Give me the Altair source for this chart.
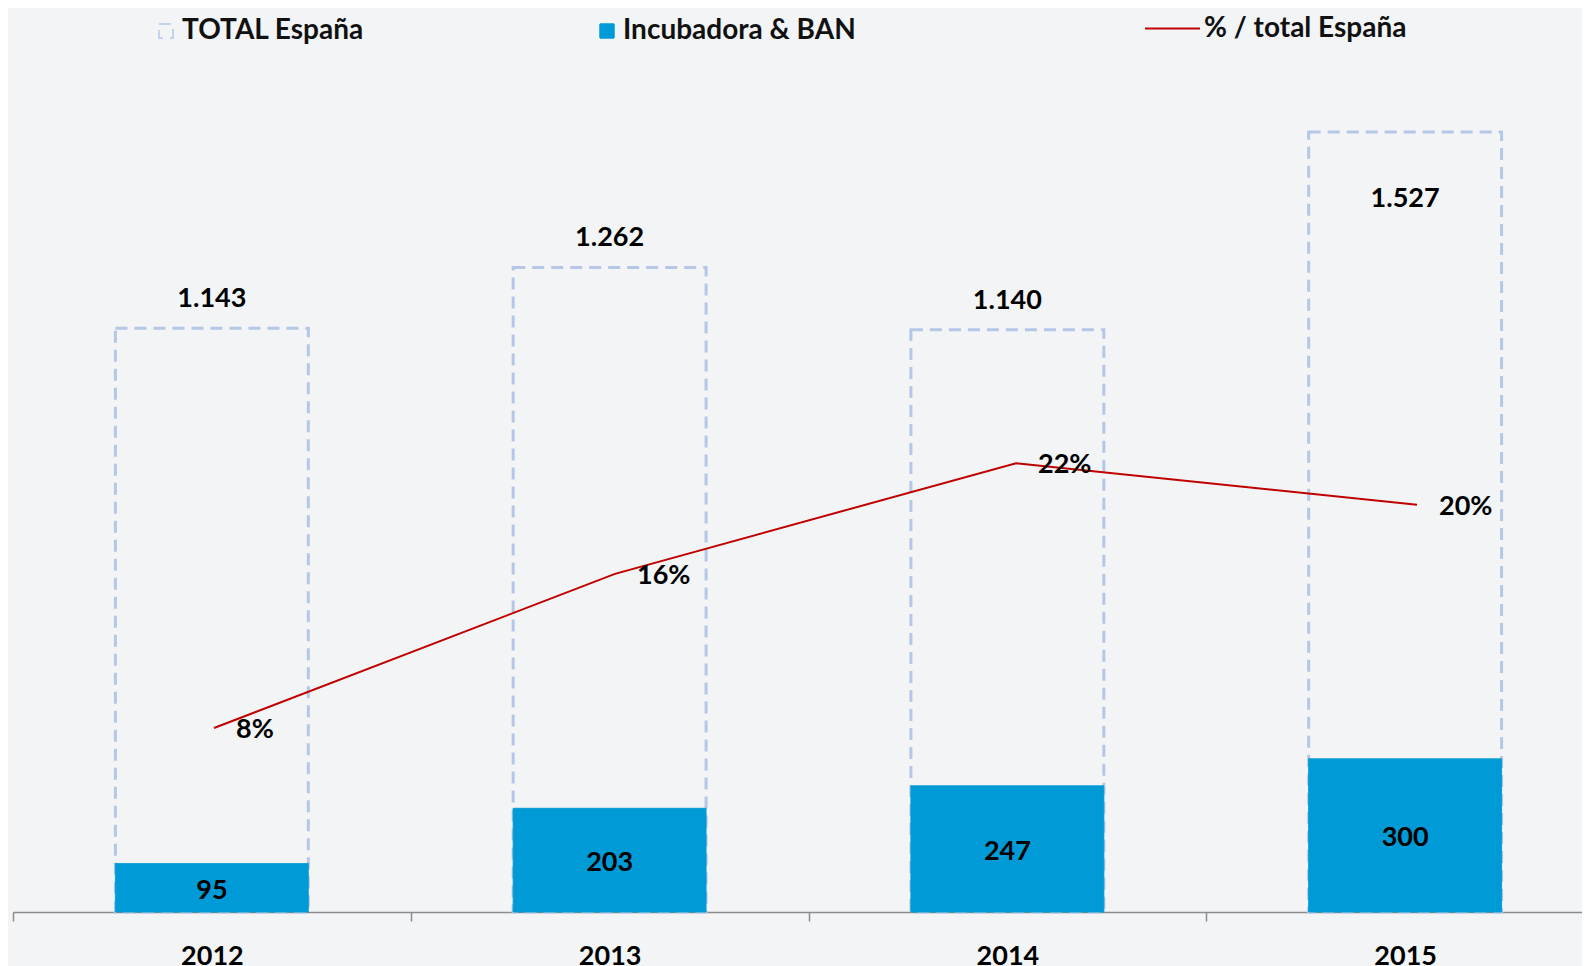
import altair as alt
import pandas as pd

years = ["2012", "2013", "2014", "2015"]
total = [1143, 1262, 1140, 1527]
incub = [95, 203, 247, 300]
pct = [0.083, 0.161, 0.217, 0.196]
pct_labels = ["8%", "16%", "22%", "20%"]
total_labels = ["1.143", "1.262", "1.140", "1.527"]

S_TOTAL = "TOTAL España"
S_INC = "Incubadora & BAN"
S_LINE = "% / total España"

df = pd.DataFrame({
    "year": years, "total": total, "incub": incub, "pct": pct,
    "pct_label": pct_labels, "total_label": total_labels,
})

FONT = "Lato"
BG = "#f2f4f6"
BLUE = "#009bd6"
DASH_BLUE = "#b4c7e7"
RED = "#c00000"

bar_scale = alt.Scale(domain=years, range=[0, 1591], paddingInner=0, paddingOuter=0)
x_axis = alt.X("year:N", sort=years, scale=bar_scale,
               axis=alt.Axis(title=None, labelAngle=0, tickBand="extent",
                             domainColor="#8c8c8c", domainWidth=1.5,
                             tickColor="#8c8c8c", tickWidth=1.5, tickSize=9,
                             labelFont=FONT, labelFontSize=27, labelFontWeight="bold",
                             labelColor="#000000", labelPadding=22, labelBaseline="top",
                             grid=False))
x = alt.X("year:N", sort=years, scale=bar_scale, axis=None)
x_line = alt.X("year:N", sort=years,
               scale=alt.Scale(domain=years, range=[0.5, 1604.5], paddingInner=0, paddingOuter=0),
               axis=None)

ydom = alt.Scale(domain=[0, 1668], nice=False, zero=True)
pdom = alt.Scale(domain=[-0.0101, 0.421], nice=False, zero=False)

bar_legend = alt.Legend(orient="none", legendX=139, legendY=-43, direction="horizontal",
                        title=None, labelFont=FONT, labelFontSize=28, labelFontWeight="bold",
                        labelColor="#111111", labelLimit=500, symbolSize=196, symbolType="square",
                        symbolStrokeWidth=1.5, columnPadding=228, labelOffset=2, padding=0)
series_dom = [S_TOTAL, S_INC]
fill_enc = alt.Fill("series:N", scale=alt.Scale(domain=series_dom, range=["transparent", BLUE]), legend=bar_legend)
stroke_enc = alt.Stroke("series:N", scale=alt.Scale(domain=series_dom, range=[DASH_BLUE, BLUE]), legend=bar_legend)
dash_enc = alt.StrokeDash("series:N", scale=alt.Scale(domain=series_dom, range=[[12, 7], [1, 0]]), legend=bar_legend)

base = alt.Chart(df)

total_bar = base.transform_calculate(series=f"'{S_TOTAL}'").mark_bar(
    width=alt.RelativeBandSize(0.485), strokeWidth=3
).encode(x=x_axis, y=alt.Y("total:Q", scale=ydom, axis=None),
         fill=fill_enc, stroke=stroke_enc, strokeDash=dash_enc)

incub_bar = base.transform_calculate(series=f"'{S_INC}'").mark_bar(
    width=alt.RelativeBandSize(0.485), strokeWidth=1
).encode(x=x, y=alt.Y("incub:Q", scale=ydom, axis=None),
         fill=fill_enc, stroke=stroke_enc, strokeDash=dash_enc)

txt = dict(font=FONT, fontSize=27, fontWeight="bold", color="#000000")

total_text = base.transform_filter("datum.year != '2015'").mark_text(
    baseline="middle", dy=-29, **txt
).encode(x=x, y=alt.Y("total:Q", scale=ydom, axis=None), text="total_label:N")

total_text_in = base.transform_filter("datum.year == '2015'").mark_text(
    baseline="middle", dy=67, **txt
).encode(x=x, y=alt.Y("total:Q", scale=ydom, axis=None), text="total_label:N")

incub_text = base.transform_calculate(mid="datum.incub / 2").mark_text(
    baseline="middle", dy=3, **txt
).encode(x=x, y=alt.Y("mid:Q", scale=ydom, axis=None), text="incub:Q")

line = base.transform_calculate(lname=f"'{S_LINE}'").mark_line(strokeWidth=2).encode(
    x=x_line, y=alt.Y("pct:Q", scale=pdom, axis=None),
    color=alt.Color("lname:N", scale=alt.Scale(domain=[S_LINE], range=[RED]),
                    legend=alt.Legend(orient="none", legendX=1131, legendY=-60,
                                      title=None, symbolType="stroke", symbolSize=3025,
                                      symbolStrokeWidth=2, labelFont=FONT, labelFontSize=28,
                                      labelFontWeight="bold", labelColor="#111111",
                                      labelLimit=500, labelOffset=3, padding=0))
)

pct_text = base.mark_text(align="left", baseline="middle", dx=22, dy=2, **txt).encode(
    x=x_line, y=alt.Y("pct:Q", scale=pdom, axis=None), text="pct_label:N"
)

chart = alt.layer(
    total_bar, incub_bar, total_text, total_text_in, incub_text, line, pct_text
).resolve_scale(y="independent", x="independent").properties(
    width=1569, height=852, background=BG,
    padding={"left": 5, "top": 52, "right": 0, "bottom": 54},
    autosize=alt.AutoSizeParams(type="none"),
).configure_view(stroke=None)

chart.save("out.html", embed_options={"renderer": "svg", "actions": False})
